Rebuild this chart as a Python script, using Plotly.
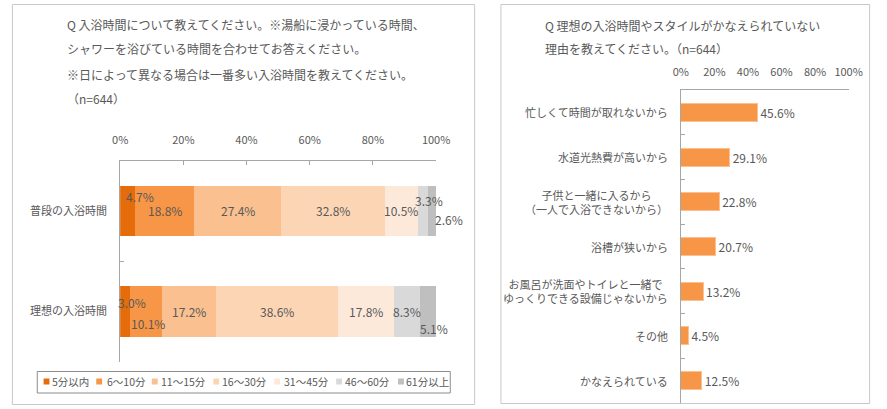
import plotly.graph_objects as go
import numpy as np

# ---------------- data ----------------
left_title_lines = [
    "Q 入浴時間について教えてください。※湯船に浸かっている時間、",
    "シャワーを浴びている時間を合わせてお答えください。",
    "※日によって異なる場合は一番多い入浴時間を教えてください。",
    "（n=644）",
]
left_categories = ["普段の入浴時間", "理想の入浴時間"]
time_bins = ["5分以内", "6～10分", "11～15分", "16～30分", "31～45分", "46～60分", "61分以上"]
usual_values = [4.7, 18.8, 27.4, 32.8, 10.5, 3.3, 2.6]
ideal_values = [3.0, 10.1, 17.2, 38.6, 17.8, 8.3, 5.1]

pct_ticks = [0, 20, 40, 60, 80, 100]
pct_tick_labels = ["0%", "20%", "40%", "60%", "80%", "100%"]

right_title_lines = [
    "Q 理想の入浴時間やスタイルがかなえられていない",
    "理由を教えてください。（n=644）",
]
reasons = [
    "忙しくて時間が取れないから",
    "水道光熱費が高いから",
    "子供と一緒に入るから<br>（一人で入浴できないから）",
    "浴槽が狭いから",
    "お風呂が洗面やトイレと一緒で<br>ゆっくりできる設備じゃないから",
    "その他",
    "かなえられている",
]
reason_values = [45.6, 29.1, 22.8, 20.7, 13.2, 4.5, 12.5]

# ---------------- style ----------------
W, H = 887, 409
FONT = "Noto Sans CJK JP, Noto Sans, sans-serif"
TXT = "#595959"
AXIS = "#A6A6A6"
bin_colors = ["#E46C0A", "#F79646", "#FAC090", "#FCD5B5", "#FDE9D9", "#D9D9D9", "#BFBFBF"]
bar_color = "#F79646"
LABEL_SIZE = 12

def px_x(p):
    return p / W

def px_y(p):
    return 1 - p / H

fig = go.Figure()

# left stacked bars
rows = [usual_values, ideal_values]
for i, name in enumerate(time_bins):
    fig.add_trace(go.Bar(
        y=left_categories,
        x=[rows[0][i], rows[1][i]],
        name=name,
        orientation="h",
        width=0.5,
        marker=dict(color=bin_colors[i], line=dict(width=0)),
        xaxis="x", yaxis="y",
        showlegend=False,
        hovertemplate=name + ": %{x}%<extra></extra>",
    ))

# right bars
fig.add_trace(go.Bar(
    y=reasons,
    x=reason_values,
    orientation="h",
    width=0.4,
    marker=dict(color=bar_color, line=dict(color="#FAC090", width=1)),
    text=[f"{v:.1f}%" for v in reason_values],
    textposition="outside",
    textfont=dict(family=FONT, size=LABEL_SIZE, color=TXT),
    cliponaxis=False,
    xaxis="x2", yaxis="y2",
    showlegend=False,
    hovertemplate="%{x}%<extra></extra>",
))

annotations = []
shapes = []

# left data labels (offsets mimic label placement in the original)
label_shift = {
    (0, 0): (12, 14), (0, 5): (6, 10), (0, 6): (17, -9),
    (1, 0): (7, 9), (1, 1): (2, -12), (1, 6): (6, -17),
}
for r, vals in enumerate(rows):
    cum = np.cumsum(vals)
    for i, v in enumerate(vals):
        xs, ys = label_shift.get((r, i), (0, 0))
        annotations.append(dict(
            x=float(cum[i] - v / 2), y=left_categories[r], xref="x", yref="y",
            text=f"{v:.1f}%", showarrow=False, xshift=xs, yshift=ys,
            font=dict(family=FONT, size=LABEL_SIZE, color=TXT),
        ))

# titles
for k, line in enumerate(left_title_lines):
    annotations.append(dict(
        x=px_x(58), y=px_y(24 + 25 * k), xref="paper", yref="paper",
        xanchor="left", yanchor="middle", text=line, showarrow=False,
        font=dict(family=FONT, size=12, color=TXT),
    ))
for k, line in enumerate(right_title_lines):
    annotations.append(dict(
        x=px_x(549), y=px_y(25 + 24 * k), xref="paper", yref="paper",
        xanchor="left", yanchor="middle", text=line, showarrow=False,
        font=dict(family=FONT, size=12, color=TXT),
    ))

# right category labels (centered multi-line)
for cat in reasons:
    annotations.append(dict(
        x=px_x(679), y=cat, xref="paper", yref="y2",
        xanchor="right", yanchor="middle", align="center",
        text=cat, showarrow=False,
        font=dict(family=FONT, size=11, color=TXT),
    ))

# legend (manual, to match compact layout)
legend_sq_x = [36.5, 90.5, 147.5, 210.5, 273, 336.5, 400]
legend_tx_x = [43.5, 99, 154.5, 217, 281, 344, 406]
legend_y = 381.5
for i, name in enumerate(time_bins):
    shapes.append(dict(
        type="rect", xref="paper", yref="paper",
        x0=px_x(legend_sq_x[i]), x1=px_x(legend_sq_x[i] + 6),
        y0=px_y(legend_y + 3), y1=px_y(legend_y - 3),
        fillcolor=bin_colors[i], line=dict(width=0),
    ))
    annotations.append(dict(
        x=px_x(legend_tx_x[i]), y=px_y(legend_y), xref="paper", yref="paper",
        xanchor="left", yanchor="middle", text=name, showarrow=False,
        font=dict(family=FONT, size=10.5, color=TXT),
    ))
shapes.append(dict(
    type="rect", xref="paper", yref="paper",
    x0=px_x(30), x1=px_x(453.5), y0=px_y(393), y1=px_y(371.5),
    line=dict(color="#8C8C8C", width=1), fillcolor="rgba(0,0,0,0)",
))

# panel borders
shapes.append(dict(type="rect", xref="paper", yref="paper",
                   x0=px_x(4.5), x1=px_x(478.5), y0=px_y(404.5), y1=px_y(4.5),
                   line=dict(color="#C8C8C8", width=1)))
shapes.append(dict(type="rect", xref="paper", yref="paper",
                   x0=px_x(505.5), x1=px_x(883.5), y0=px_y(403.5), y1=px_y(4.5),
                   line=dict(color="#C8C8C8", width=1)))

fig.update_layout(
    width=W, height=H, autosize=False,
    margin=dict(l=0, r=0, t=0, b=0),
    paper_bgcolor="white", plot_bgcolor="white",
    barmode="stack",
    font=dict(family=FONT, size=11, color=TXT),
    annotations=annotations,
    shapes=shapes,
    xaxis=dict(
        domain=[px_x(115), px_x(439)], anchor="y", side="top",
        range=[0, 100], tickvals=pct_ticks, ticktext=pct_tick_labels,
        showgrid=False, zeroline=False, showline=True, linecolor=AXIS, linewidth=1,
        ticks="inside", ticklen=4, tickcolor=AXIS, ticklabelstandoff=11,
        tickfont=dict(family=FONT, size=11, color=TXT), fixedrange=True,
    ),
    yaxis=dict(
        domain=[px_y(362), px_y(160.5)], anchor="x",
        categoryorder="array", categoryarray=left_categories, autorange="reversed",
        showgrid=False, zeroline=False, showline=True, linecolor=AXIS, linewidth=1,
        ticks="inside", ticklen=4, tickcolor=AXIS, tickson="boundaries",
        ticklabelstandoff=10,
        tickfont=dict(family=FONT, size=11, color=TXT), fixedrange=True,
    ),
    xaxis2=dict(
        domain=[px_x(690), px_x(862)], anchor="y2", side="top",
        range=[0, 100], tickvals=pct_ticks, ticktext=pct_tick_labels,
        showgrid=False, zeroline=False, showline=True, linecolor=AXIS, linewidth=1,
        ticks="", ticklabelstandoff=9,
        tickfont=dict(family=FONT, size=11, color=TXT), fixedrange=True,
    ),
    yaxis2=dict(
        domain=[px_y(403), px_y(90)], anchor="x2",
        categoryorder="array", categoryarray=reasons, autorange="reversed",
        showgrid=False, zeroline=False, showline=True, linecolor=AXIS, linewidth=1,
        ticks="inside", ticklen=4, tickcolor=AXIS, tickson="boundaries",
        showticklabels=False, fixedrange=True,
    ),
)

fig.write_html(
    "out.html",
    config={"displayModeBar": False},
    post_script="document.body.style.margin='0';document.body.style.overflow='hidden';",
)
